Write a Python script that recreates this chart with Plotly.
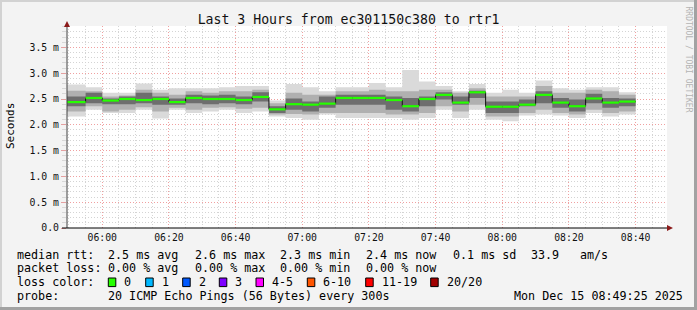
import plotly.graph_objects as go

# ---------------- data ----------------
DAY = "2025-12-15"
window_start = "05:49:25"
window_end = "08:49:25"
bar_end = ["05:55", "06:00", "06:05", "06:10", "06:15", "06:20", "06:25", "06:30", "06:35",
           "06:40", "06:45", "06:50", "06:55", "07:00", "07:05", "07:10", "07:15", "07:20",
           "07:25", "07:30", "07:35", "07:40", "07:45", "07:50", "07:55", "08:00", "08:05",
           "08:10", "08:15", "08:20", "08:25", "08:30", "08:35", "08:40"]

# round-trip times in ms
rtt_max = [2.78, 2.73, 2.62, 2.62, 2.80, 2.68, 2.71, 2.71, 2.71, 2.73, 2.75, 2.75, 2.47, 2.79,
           2.73, 2.65, 2.73, 2.73, 2.81, 2.73, 3.06, 2.84, 2.75, 2.65, 2.79, 2.62, 2.68, 2.62,
           2.86, 2.71, 2.68, 2.73, 2.73, 2.63]
mid_hi = [2.66, 2.65, 2.55, 2.57, 2.68, 2.62, 2.58, 2.65, 2.62, 2.65, 2.65, 2.68, 2.42, 2.62,
          2.58, 2.58, 2.65, 2.65, 2.68, 2.65, 2.65, 2.68, 2.68, 2.62, 2.71, 2.55, 2.55, 2.55,
          2.75, 2.62, 2.62, 2.68, 2.65, 2.58]
core_hi = [2.55, 2.62, 2.51, 2.55, 2.62, 2.55, 2.51, 2.58, 2.57, 2.58, 2.55, 2.63, 2.36, 2.51,
           2.45, 2.55, 2.58, 2.58, 2.58, 2.55, 2.52, 2.55, 2.63, 2.55, 2.66, 2.45, 2.45, 2.49,
           2.65, 2.52, 2.49, 2.60, 2.52, 2.51]
median = [2.44, 2.52, 2.47, 2.50, 2.48, 2.50, 2.44, 2.52, 2.50, 2.50, 2.48, 2.54, 2.30, 2.40,
          2.39, 2.41, 2.52, 2.52, 2.52, 2.48, 2.36, 2.50, 2.58, 2.43, 2.63, 2.35, 2.35, 2.39,
          2.58, 2.43, 2.36, 2.51, 2.43, 2.45]
core_lo = [2.36, 2.42, 2.40, 2.40, 2.42, 2.39, 2.39, 2.42, 2.40, 2.42, 2.40, 2.45, 2.23, 2.29,
           2.26, 2.33, 2.39, 2.39, 2.39, 2.29, 2.26, 2.36, 2.49, 2.39, 2.52, 2.23, 2.23, 2.36,
           2.42, 2.33, 2.26, 2.42, 2.33, 2.36]
mid_lo = [2.26, 2.36, 2.26, 2.29, 2.34, 2.26, 2.33, 2.29, 2.33, 2.34, 2.31, 2.33, 2.20, 2.21,
          2.20, 2.23, 2.23, 2.23, 2.23, 2.20, 2.20, 2.23, 2.36, 2.26, 2.39, 2.16, 2.16, 2.23,
          2.29, 2.23, 2.20, 2.29, 2.23, 2.26]
rtt_min = [2.16, 2.29, 2.23, 2.23, 2.29, 2.12, 2.29, 2.23, 2.26, 2.29, 2.23, 2.26, 2.16, 2.13,
           2.10, 2.20, 2.13, 2.13, 2.13, 2.13, 2.10, 2.13, 2.29, 2.13, 2.29, 2.10, 2.07, 2.18,
           2.20, 2.18, 2.13, 2.23, 2.16, 2.20]

y_tick_vals = [0.0, 0.5, 1.0, 1.5, 2.0, 2.5, 3.0, 3.5]
y_tick_text = ["0.0", "0.5 m", "1.0 m", "1.5 m", "2.0 m", "2.5 m", "3.0 m", "3.5 m"]
x_tick_text = ["06:00", "06:20", "06:40", "07:00", "07:20", "07:40", "08:00", "08:20", "08:40"]

loss_labels = ["0", "1", "2", "3", "4-5", "6-10", "11-19", "20/20"]
loss_colors = ["#26ff00", "#00b8ff", "#0059ff", "#7e00ff", "#ff00ff", "#ff5500", "#ff0000", "#a10000"]

title_text = "Last 3 Hours from ec301150c380 to rtr1"
rtt_stats = ["2.5 ms avg", "2.6 ms max", "2.3 ms min", "2.4 ms now", "0.1 ms sd", "33.9", "am/s"]
loss_stats = ["0.00 % avg", "0.00 % max", "0.00 % min", "0.00 % now"]
probe_text = "20 ICMP Echo Pings (56 Bytes) every 300s"
stamp_text = "Mon Dec 15 08:49:25 2025"

# ---------------- helpers ----------------
W, H = 697, 310
L, R, T, B = 67, 667, 26, 228
MONO = "DejaVu Sans Mono"


def ts(hm):
    return f"{DAY} {hm}" if hm.count(":") == 2 else f"{DAY} {hm}:00"


def px(x):
    return (x - L) / (R - L)


def py(y):
    return (B - y) / (B - T)


starts = [window_start] + bar_end[:-1]
x_step = [ts(s) for s in starts] + [ts(bar_end[-1])]


def step(v):
    return list(v) + [v[-1]]


fig = go.Figure()

layers = [(rtt_min, rtt_max, "#dadada"), (mid_lo, mid_hi, "#b0b0b0"), (core_lo, core_hi, "#6e6e6e")]
for lo, hi, col in layers:
    fig.add_trace(go.Scatter(x=x_step, y=step(lo), mode="lines", line=dict(width=0, shape="hv"),
                             showlegend=False, hoverinfo="skip"))
    fig.add_trace(go.Scatter(x=x_step, y=step(hi), mode="lines", line=dict(width=0, shape="hv"),
                             fill="tonexty", fillcolor=col, showlegend=False, hoverinfo="skip"))

# thin dark median step line
fig.add_trace(go.Scatter(x=x_step, y=step(median), mode="lines",
                         line=dict(width=1, shape="hv", color="#111111"),
                         showlegend=False, hoverinfo="skip"))
# green median segments
gx, gy = [], []
for s, e, m in zip(starts, bar_end, median):
    gx += [ts(s), ts(e), None]
    gy += [m, m, None]
fig.add_trace(go.Scatter(x=gx, y=gy, mode="lines", line=dict(width=2.2, color=loss_colors[0]),
                         showlegend=False, hoverinfo="skip", connectgaps=False))

# ---------------- layout ----------------
shapes = []
# axis lines + arrows
shapes.append(dict(type="line", xref="paper", yref="paper", x0=px(L), x1=px(L), y0=py(B), y1=py(T - 3),
                   line=dict(color="#404040", width=1)))
shapes.append(dict(type="line", xref="paper", yref="paper", x0=px(L - 5), x1=px(R + 3), y0=py(B), y1=py(B),
                   line=dict(color="#000000", width=1)))
shapes.append(dict(type="path", xref="paper", yref="paper",
                   path=f"M {px(L)} {py(T - 5)} L {px(L - 3)} {py(T + 1)} L {px(L + 3)} {py(T + 1)} Z",
                   fillcolor="#8b1a1a", line=dict(width=0)))
shapes.append(dict(type="path", xref="paper", yref="paper",
                   path=f"M {px(R + 6)} {py(B)} L {px(R)} {py(B - 3)} L {px(R)} {py(B + 3)} Z",
                   fillcolor="#8b1a1a", line=dict(width=0)))
# frame
shapes.append(dict(type="rect", xref="paper", yref="paper", x0=px(0), x1=px(W), y0=py(0), y1=py(2),
                   fillcolor="#d2d2d2", line=dict(width=0)))
shapes.append(dict(type="rect", xref="paper", yref="paper", x0=px(0), x1=px(2), y0=py(0), y1=py(H),
                   fillcolor="#d2d2d2", line=dict(width=0)))
shapes.append(dict(type="rect", xref="paper", yref="paper", x0=px(0), x1=px(W), y0=py(H - 3), y1=py(H),
                   fillcolor="#a2a2a2", line=dict(width=0)))
shapes.append(dict(type="rect", xref="paper", yref="paper", x0=px(W - 3), x1=px(W), y0=py(0), y1=py(H),
                   fillcolor="#a2a2a2", line=dict(width=0)))

annotations = []


def text(x, y, s, size=11.7, color="#000000", anchor="left", angle=0):
    annotations.append(dict(x=px(x), y=py(y), xref="paper", yref="paper", text=s, showarrow=False,
                            xanchor=anchor, yanchor="middle", textangle=angle, borderpad=0,
                            font=dict(family=MONO, size=size, color=color)))


LINE_Y = [254.7, 268.0, 282.3, 295.7]
COL_X = [107.3, 194.0, 279.3, 365.0, 451.7, 530.0, 579.3]

text(16, LINE_Y[0], "median rtt:")
for x, s in zip(COL_X, rtt_stats):
    text(x, LINE_Y[0], s)
text(16, LINE_Y[1], "packet loss:")
for x, s in zip(COL_X, loss_stats):
    text(x, LINE_Y[1], s)
text(16, LINE_Y[2], "loss color:")
SW_X = [108.3, 145.7, 182.7, 219.3, 256.0, 307.3, 365.7, 430.7]
for x, lab, col in zip(SW_X, loss_labels, loss_colors):
    shapes.append(dict(type="rect", xref="paper", yref="paper", x0=px(x), x1=px(x + 7.5),
                       y0=py(LINE_Y[2] - 4.3), y1=py(LINE_Y[2] + 4.3),
                       fillcolor=col, line=dict(color="#000000", width=1)))
    text(x + 15, LINE_Y[2], lab)
text(16, LINE_Y[3], "probe:")
text(107.3, LINE_Y[3], probe_text)
text(513.3, LINE_Y[3], stamp_text)

text(10, 126, "Seconds", size=11, anchor="center", angle=-90)
text(688.5, 59, "RRDTOOL / TOBI OETIKER", size=8, color="#b4b4b4", anchor="center", angle=90)

fig.update_layout(
    width=W, height=H,
    margin=dict(l=L, r=W - R, t=T, b=H - B, pad=0),
    paper_bgcolor="#f3f3f3", plot_bgcolor="#ffffff",
    title=dict(text=title_text, x=348.5 / W, xanchor="center", y=1 - 19 / H, yanchor="middle",
               font=dict(family=MONO, size=13.2, color="#111111")),
    shapes=shapes, annotations=annotations,
    showlegend=False,
    xaxis=dict(type="date", range=[ts(window_start), ts(window_end)],
               tickvals=[ts(t) for t in x_tick_text], ticktext=x_tick_text,
               ticks="", showline=False, zeroline=False, ticklabelstandoff=2,
               showgrid=True, gridcolor="#f0a0a0", griddash="1px,2px", gridwidth=1,
               tickfont=dict(family=MONO, size=9.8, color="#111111"),
               minor=dict(dtick=300000, tick0=ts("05:50"), showgrid=True, gridcolor="#d4d4d4",
                          griddash="1px,2px", gridwidth=1)),
    yaxis=dict(range=[0, (B - T) / 51.6], tickvals=y_tick_vals, ticktext=y_tick_text,
               ticks="outside", ticklen=5, tickcolor="#e4a0a0", showline=False, zeroline=False,
               showgrid=True, gridcolor="#f0a0a0", griddash="1px,2px", gridwidth=1,
               tickfont=dict(family=MONO, size=9.8, color="#111111"),
               minor=dict(dtick=0.1, tick0=0, showgrid=True, gridcolor="#d4d4d4", griddash="1px,2px",
                          gridwidth=1, ticks="outside", ticklen=4, tickcolor="#d8d8d8")),
)

fig.write_html("out.html")
